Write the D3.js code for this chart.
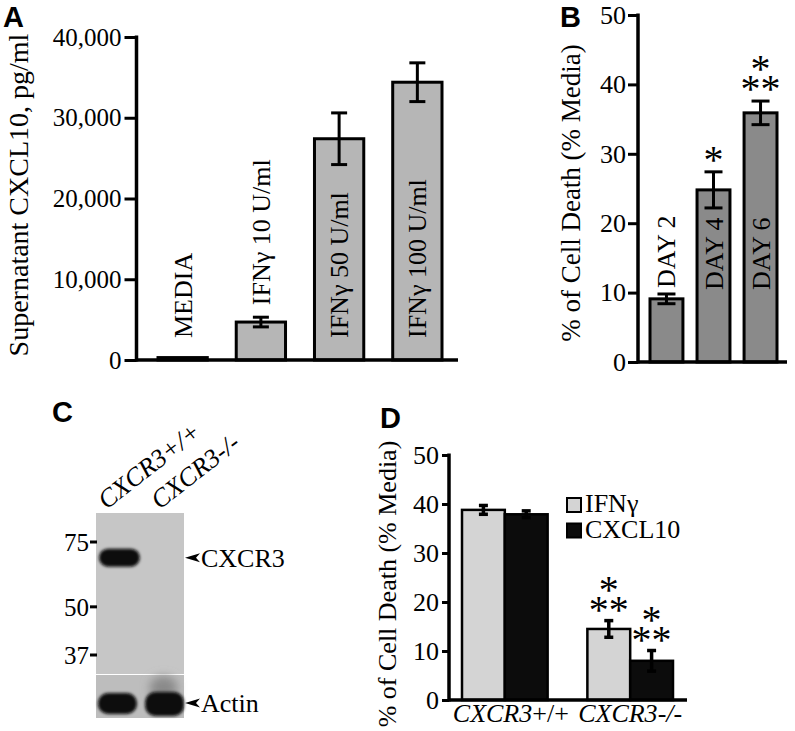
<!DOCTYPE html>
<html><head><meta charset="utf-8">
<script src="https://cdn.jsdelivr.net/npm/d3@7"></script>
<style>body{margin:0;background:#fff}</style>
</head><body>
<svg id="c" width="795" height="731" xmlns="http://www.w3.org/2000/svg"></svg>
<script>
// ---------- Panel A data ----------
const catsA = ["MEDIA", "IFNγ 10 U/ml", "IFNγ 50 U/ml", "IFNγ 100 U/ml"];
const valsA = [300, 4700, 27400, 34400];
const errA  = [0, 600, 3200, 2400];
const ticksA = [0, 10000, 20000, 30000, 40000];

// ---------- Panel B data ----------
const catsB = ["DAY 2", "DAY 4", "DAY 6"];
const valsB = [9.1, 24.8, 35.9];
const errB  = [0.7, 2.6, 1.7];
const starsB = [0, 1, 3];
const ticksB = [0, 10, 20, 30, 40, 50];

// ---------- Panel C data (western blot) ----------
const lanesC = ["CXCR3+/+", "CXCR3-/-"];
const markersC = [75, 50, 37];
const cxcr3Band = [1, 0];
const actinBand = [1, 1];

// ---------- Panel D data ----------
const groupsD = ["CXCR3+/+", "CXCR3-/-"];
const seriesD = ["IFNγ", "CXCL10"];
const ifngD   = [38.8, 14.5];
const cxcl10D = [37.9, 8.0];
const errIfngD   = [0.9, 1.7];
const errCxcl10D = [0.7, 2.1];
const starsIfngD   = [0, 3];
const starsCxcl10D = [0, 3];
const ticksD = [0, 10, 20, 30, 40, 50];

const SERIF = "'Liberation Serif','Times New Roman',serif";
const SANS = "'Liberation Sans',Arial,sans-serif";
const svg = d3.select("#c");

function styleAxis(g, fs) {
  g.select(".domain").remove();
  g.selectAll(".tick line").attr("stroke", "#000").attr("stroke-width", 3);
  g.selectAll(".tick text").attr("font-family", SERIF).attr("font-size", fs).attr("fill", "#000");
}
function errBar(g, cx, yTop, yBot, cap, sw) {
  g.append("line").attr("x1", cx).attr("x2", cx).attr("y1", yTop).attr("y2", yBot)
    .attr("stroke", "#000").attr("stroke-width", sw);
  [yTop, yBot].forEach(y => g.append("line").attr("x1", cx - cap / 2).attr("x2", cx + cap / 2)
    .attr("y1", y).attr("y2", y).attr("stroke", "#000").attr("stroke-width", sw));
}
// significance asterisks: one text element per bar
function stars(g, cx, yRow, n) {
  if (!n) return;
  const t = g.append("text").attr("text-anchor", "middle").attr("font-family", SERIF).attr("font-size", 40);
  if (n === 1) t.append("tspan").attr("x", cx).attr("y", yRow + 19).text("*");
  if (n === 3) {
    t.append("tspan").attr("x", cx).attr("y", yRow - 1).text("*");
    t.append("tspan").attr("x", cx).attr("y", yRow + 19).text("**");
  }
}
function panelLetter(t, x, y) {
  svg.append("text").attr("x", x).attr("y", y).attr("font-family", SANS)
    .attr("font-weight", "bold").attr("font-size", 29).text(t);
}
// vertical bar label: inside the bar from `base` if it fits, otherwise just above the error bar
function barLabel(g, txt, cx, base, barTop, errTop, gap) {
  const t = g.append("text").attr("font-family", SERIF).attr("font-size", 26).text(txt);
  const len = t.node().getComputedTextLength();
  const yb = (barTop + 6 < base - len) ? base : Math.min(base, errTop - gap);
  t.attr("transform", `translate(${cx + 9},${yb}) rotate(-90)`);
}

// ================= Panel A =================
{
  const g = svg.append("g");
  const y = d3.scaleLinear().domain([0, 40000]).range([360, 37]);
  const x = d3.scaleBand().domain(catsA).range([158, 442]).paddingInner(0.37);
  const ax = g.append("g").attr("transform", "translate(136.5,0)")
    .call(d3.axisLeft(y).tickValues(ticksA).tickFormat(d3.format(",")).tickSize(12).tickPadding(3));
  styleAxis(ax, 25);
  g.append("line").attr("x1", 136.5).attr("x2", 136.5).attr("y1", 35.5).attr("y2", 361.5)
    .attr("stroke", "#000").attr("stroke-width", 3.5);
  catsA.forEach((c, i) => {
    const v = valsA[i];
    g.append("rect").attr("x", x(c)).attr("y", y(v)).attr("width", x.bandwidth())
      .attr("height", y(0) - y(v)).attr("fill", "#b6b6b6").attr("stroke", "#000").attr("stroke-width", 3);
    const cx = x(c) + x.bandwidth() / 2;
    if (errA[i] > 0) errBar(g, cx, y(v + errA[i]), y(v - errA[i]), 16, 3);
    barLabel(g, c, cx, 338, y(v), y(v + errA[i]), 12);
  });
  g.append("line").attr("x1", 135).attr("x2", 458).attr("y1", 360).attr("y2", 360)
    .attr("stroke", "#000").attr("stroke-width", 3.5);
  g.append("text").attr("transform", `translate(28,195) rotate(-90)`).attr("text-anchor", "middle")
    .attr("font-family", SERIF).attr("font-size", 28).text("Supernatant CXCL10, pg/ml");
  panelLetter("A", 3, 26.5);
}

// ================= Panel B =================
{
  const g = svg.append("g");
  const y = d3.scaleLinear().domain([0, 50]).range([362, 15]);
  const x = d3.scaleBand().domain(catsB).range([650, 777]).paddingInner(0.3);
  const ax = g.append("g").attr("transform", "translate(638,0)")
    .call(d3.axisLeft(y).tickValues(ticksB).tickSize(10).tickPadding(2));
  styleAxis(ax, 26);
  g.append("line").attr("x1", 638).attr("x2", 638).attr("y1", 13.5).attr("y2", 363.5)
    .attr("stroke", "#000").attr("stroke-width", 3.5);
  catsB.forEach((c, i) => {
    const v = valsB[i];
    g.append("rect").attr("x", x(c)).attr("y", y(v)).attr("width", x.bandwidth())
      .attr("height", y(0) - y(v)).attr("fill", "#8a8a8a").attr("stroke", "#000").attr("stroke-width", 3);
    const cx = x(c) + x.bandwidth() / 2;
    const yt = y(v + errB[i]);
    errBar(g, cx, yt, y(v - errB[i]), 18, 3);
    barLabel(g, c, cx, 290, y(v), yt, 6);
    stars(g, cx, yt - 18, starsB[i]);
  });
  g.append("line").attr("x1", 637).attr("x2", 787).attr("y1", 362).attr("y2", 362)
    .attr("stroke", "#000").attr("stroke-width", 3.5);
  g.append("text").attr("transform", `translate(580,193) rotate(-90)`).attr("text-anchor", "middle")
    .attr("font-family", SERIF).attr("font-size", 27).text("% of Cell Death (% Media)");
  panelLetter("B", 560, 26.5);
}

// ================= Panel C (blot) =================
{
  const g = svg.append("g");
  const defs = svg.append("defs");
  defs.append("filter").attr("id", "blur").attr("x", "-30%").attr("y", "-60%").attr("width", "160%").attr("height", "220%")
    .append("feGaussianBlur").attr("stdDeviation", 1.6);
  defs.append("filter").attr("id", "blur2").attr("x", "-50%").attr("y", "-80%").attr("width", "200%").attr("height", "260%")
    .append("feGaussianBlur").attr("stdDeviation", 5);
  const lane = d3.scaleBand().domain(lanesC).range([97, 185]).paddingInner(0.05);
  const mw = d3.scaleLog().domain([37, 75]).range([655, 542]);
  const top = 513, sep = 674, bot = 718;
  g.append("rect").attr("x", 96).attr("y", top).attr("width", 88).attr("height", sep - top).attr("fill", "#c6c6c6");
  g.append("rect").attr("x", 96).attr("y", sep + 1).attr("width", 88).attr("height", bot - sep - 1).attr("fill", "#bdbdbd");
  markersC.forEach(m => {
    g.append("line").attr("x1", 90).attr("x2", 97).attr("y1", mw(m)).attr("y2", mw(m))
      .attr("stroke", "#000").attr("stroke-width", 3);
    g.append("text").attr("x", 89).attr("y", mw(m) + 9).attr("text-anchor", "end")
      .attr("font-family", SERIF).attr("font-size", 25).text(m);
  });
  const bandY = mw(68);
  lanesC.forEach((l, i) => {
    const x0 = lane(l), bw = lane.bandwidth();
    if (cxcr3Band[i] > 0) {
      g.append("rect").attr("x", x0 + 2).attr("y", bandY - 9).attr("width", bw - 2).attr("height", 18)
        .attr("rx", 9).attr("fill", "#0a0a0a").attr("filter", "url(#blur)");
    }
    if (actinBand[i] > 0) {
      if (i === 1) g.append("ellipse").attr("cx", x0 + bw / 2).attr("cy", 688).attr("rx", 14).attr("ry", 12)
        .attr("fill", "#8a8a8a").attr("filter", "url(#blur2)");
      g.append("rect").attr("x", x0 + (i ? 3 : 1)).attr("y", i ? 692 : 693).attr("width", bw - 4)
        .attr("height", i ? 24 : 21).attr("rx", 10).attr("fill", "#080808").attr("filter", "url(#blur)");
    }
    g.append("text").attr("transform", `translate(${x0 + bw / 2 - 12 + 8 * i},510) rotate(-38)`)
      .attr("font-family", SERIF).attr("font-style", "italic").attr("font-size", 26).text(l);
  });
  [["CXCR3", bandY], ["Actin", 703]].forEach(([t, yy]) => {
    g.append("path").attr("d", `M185,${yy} L200,${yy - 4.5} L196,${yy} L200,${yy + 4.5} Z`).attr("fill", "#000");
    g.append("text").attr("x", 201).attr("y", yy + 9).attr("font-family", SERIF).attr("font-size", 26).text(t);
  });
  panelLetter("C", 52, 422);
}

// ================= Panel D =================
{
  const g = svg.append("g");
  const y = d3.scaleLinear().domain([0, 50]).range([700, 455]);
  const x0 = d3.scaleBand().domain(groupsD).range([462, 673]).paddingInner(0.317);
  const x1 = d3.scaleBand().domain(seriesD).range([0, x0.bandwidth()]);
  const color = d3.scaleOrdinal().domain(seriesD).range(["#d4d4d4", "#0c0c0c"]);
  const ax = g.append("g").attr("transform", "translate(449,0)")
    .call(d3.axisLeft(y).tickValues(ticksD).tickSize(7).tickPadding(3));
  styleAxis(ax, 26);
  g.append("line").attr("x1", 449).attr("x2", 449).attr("y1", 453.5).attr("y2", 701.5)
    .attr("stroke", "#000").attr("stroke-width", 3.5);
  const vals = { "IFNγ": ifngD, "CXCL10": cxcl10D };
  const errs = { "IFNγ": errIfngD, "CXCL10": errCxcl10D };
  const st = { "IFNγ": starsIfngD, "CXCL10": starsCxcl10D };
  groupsD.forEach((grp, gi) => {
    seriesD.forEach(s => {
      const v = vals[s][gi], e = errs[s][gi];
      const bx = x0(grp) + x1(s);
      g.append("rect").attr("x", bx).attr("y", y(v)).attr("width", x1.bandwidth())
        .attr("height", y(0) - y(v)).attr("fill", color(s)).attr("stroke", "#000").attr("stroke-width", 2.5);
      const cx = bx + x1.bandwidth() / 2;
      errBar(g, cx, y(v + e), y(v - e), 9, 3.5);
      stars(g, cx, y(v + e) - 17, st[s][gi]);
    });
    const t = g.append("text").attr("x", x0(grp) + x0.bandwidth() / 2 + (gi ? 0 : 6)).attr("y", 722)
      .attr("text-anchor", "middle").attr("font-family", SERIF).attr("font-size", 26);
    t.append("tspan").attr("font-style", "italic").text(grp.slice(0, 5));
    t.append("tspan").attr("font-style", gi ? "italic" : "normal").text(grp.slice(5));
  });
  g.append("line").attr("x1", 448).attr("x2", 687).attr("y1", 700).attr("y2", 700)
    .attr("stroke", "#000").attr("stroke-width", 3.5);
  seriesD.forEach((s, i) => {
    const ly = 498 + i * 25.5;
    g.append("rect").attr("x", 567).attr("y", ly).attr("width", 14).attr("height", 14)
      .attr("fill", color(s)).attr("stroke", "#000").attr("stroke-width", 2);
    g.append("text").attr("x", 585).attr("y", ly + 14).attr("font-family", SERIF).attr("font-size", 26).text(s);
  });
  g.append("text").attr("transform", `translate(396,584) rotate(-90)`).attr("text-anchor", "middle")
    .attr("font-family", SERIF).attr("font-size", 26).text("% of Cell Death (% Media)");
  panelLetter("D", 380, 428);
}
</script>
</body></html>
